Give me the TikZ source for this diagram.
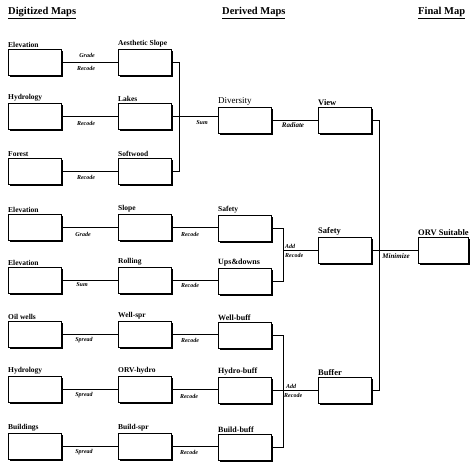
\documentclass[tikz,border=0pt]{standalone}
\usepackage{fontspec}
\setmainfont{Liberation Serif}
\usetikzlibrary{shadows}
\tikzset{
  mapbox/.style={draw, line width=0.9pt, fill=white, minimum width=53pt,
    minimum height=26pt, inner sep=0pt, anchor=north west,
    drop shadow={shadow xshift=2pt, shadow yshift=-2pt, fill=black, opacity=1}},
  lab/.style={anchor=south west, inner sep=0pt, yshift=1.6pt,
    font=\fontsize{7.5}{8}\selectfont\bfseries},
  labmid/.style={lab, font=\fontsize{8}{9}\selectfont\bfseries},
  labbig/.style={lab, font=\fontsize{8.5}{9}\selectfont\bfseries},
  labreg/.style={lab, font=\fontsize{9}{10}\selectfont},
  op/.style={inner sep=0pt, font=\fontsize{6}{7}\selectfont\bfseries\itshape},
  conn/.style={line width=0.8pt},
  hdr/.style={inner sep=0pt, anchor=west, font=\fontsize{10.5}{12}\selectfont\bfseries},
}
\newcommand\mapnode[5]{% style, name, x, y, label
  \node[mapbox] (#2) at (#3,#4) {};
  \node[#1] (#2-l) at (#2.north west) {#5};}
\begin{document}
\begin{tikzpicture}[x=1pt, y=-1pt]
\useasboundingbox (0,0) rectangle (470,463);
% headers
\node[hdr] (h-dig) at (8,13) {\underline{Digitized Maps}};
\node[hdr] (h-der) at (222,13) {\underline{Derived Maps}};
\node[hdr] (h-fin) at (418,13) {\underline{Final Map}};
% column 1
\mapnode{lab}{e1}{8}{49}{Elevation}
\mapnode{lab}{h1}{8}{103}{Hydrology}
\mapnode{lab}{f1}{8}{158}{Forest}
\mapnode{lab}{e4}{8}{214}{Elevation}
\mapnode{lab}{e5}{8}{267}{Elevation}
\mapnode{lab}{o6}{8}{321}{Oil wells}
\mapnode{lab}{h7}{8}{376}{Hydrology}
\mapnode{lab}{b8}{8}{433}{Buildings}
% column 2
\mapnode{lab}{as}{118}{49}{Aesthetic Slope}
\mapnode{lab}{lk}{118}{103}{Lakes}
\mapnode{lab}{sw}{118}{158}{Softwood}
\mapnode{lab}{sl}{118}{214}{Slope}
\mapnode{lab}{ro}{118}{267}{Rolling}
\mapnode{lab}{ws}{118}{321}{Well-spr}
\mapnode{lab}{oh}{118}{376}{ORV-hydro}
\mapnode{lab}{bs}{118}{433}{Build-spr}
% column 3
\mapnode{labreg}{dv}{218}{107}{Diversity}
\mapnode{lab}{sf}{218}{215}{Safety}
\mapnode{labmid}{ud}{218}{268}{Ups\&downs}
\mapnode{labmid}{wb}{218}{322}{Well-buff}
\mapnode{labmid}{hb}{218}{377}{Hydro-buff}
\mapnode{labmid}{bb}{218}{434}{Build-buff}
% column 4
\mapnode{labbig}{vw}{318}{107}{View}
\mapnode{labbig}{sa}{318}{237}{Safety}
\mapnode{labbig}{bu}{318}{377}{Buffer}
% column 5
\node[mapbox, minimum width=50pt] (orv) at (418,237) {};
\node[labbig] (orv-l) at (orv.north west) {ORV Suitable};
% connectors column 1 -> 2
\draw[conn] (e1.east) -- (e1.east -| as.west);
\draw[conn] (h1.east) -- (h1.east -| lk.west);
\draw[conn] (f1.east) -- (f1.east -| sw.west);
\draw[conn] (e4.east) -- (e4.east -| sl.west);
\draw[conn] (e5.east) -- (e5.east -| ro.west);
\draw[conn] (o6.east) -- (o6.east -| ws.west);
\draw[conn] (h7.east) -- (h7.east -| oh.west);
\draw[conn] (b8.east) -- (b8.east -| bs.west);
% column 2 -> 3
\draw[conn] (as.east) -- ++(7,0) coordinate (b1) -- (b1 |- sw.east) -- (sw.east);
\draw[conn] (lk.east) -- (lk.east -| dv.west);
\draw[conn] (sl.east) -- (sl.east -| sf.west);
\draw[conn] (ro.east) -- (ro.east -| ud.west);
\draw[conn] (ws.east) -- (ws.east -| wb.west);
\draw[conn] (oh.east) -- (oh.east -| hb.west);
\draw[conn] (bs.east) -- (bs.east -| bb.west);
% column 3 -> 4
\draw[conn] (dv.east) -- (dv.east -| vw.west);
\draw[conn] (sf.east) -- ++(11,0) coordinate (b2) -- (b2 |- ud.east) -- (ud.east);
\draw[conn] (sa.west) -- (sa.west -| b2);
\draw[conn] (wb.east) -- ++(11,0) coordinate (b3) -- (b3 |- bb.east) -- (bb.east);
\draw[conn] (hb.east) -- (hb.east -| bu.west);
% column 4 -> 5
\draw[conn] (vw.east) -- ++(7,0) coordinate (b4) -- (b4 |- bu.east) -- (bu.east);
\draw[conn] (sa.east) -- (sa.east -| orv.west);
% operation labels
\node[op] (t1a) at (87,55) {Grade};
\node[op] (t1b) at (86,68) {Recode};
\node[op] (t2) at (86,123) {Recode};
\node[op] (t3) at (86,177) {Recode};
\node[op] (t4) at (83,234) {Grade};
\node[op] (t5) at (82,285) {Sum};
\node[op] (t6) at (84,340) {Spread};
\node[op] (t7) at (84,395) {Spread};
\node[op] (t8) at (84,452) {Spread};
\node[op] (u4) at (190,234) {Recode};
\node[op] (u5) at (190,285) {Recode};
\node[op] (u6) at (190,340) {Recode};
\node[op] (u7) at (189,396) {Recode};
\node[op] (u8) at (189,452) {Recode};
\node[op] (usum) at (202,123) {Sum};
\node[op, font=\fontsize{7}{8}\selectfont\bfseries\itshape] (urad) at (293,125) {Radiate};
\node[op, anchor=west] (a1) at (285,246) {Add};
\node[op, anchor=west] (a1r) at (285,255) {Recode};
\node[op, anchor=west] (a2) at (286,386) {Add};
\node[op, anchor=west] (a2r) at (284,395) {Recode};
\node[op, font=\fontsize{7}{8}\selectfont\bfseries\itshape] (umin) at (396,256) {Minimize};
\end{tikzpicture}
\end{document}
